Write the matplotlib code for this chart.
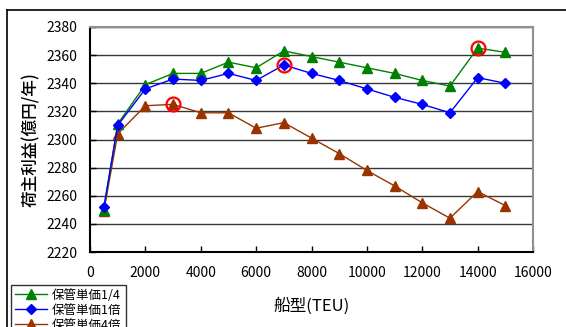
import matplotlib
matplotlib.use("Agg")
import matplotlib.pyplot as plt
from matplotlib.lines import Line2D

plt.rcParams['font.family'] = ['Noto Sans CJK JP', 'DejaVu Sans']

# Ship size (TEU) and shipper profit (100 million yen / year)
teu = [500, 1000, 2000, 3000, 4000, 5000, 6000, 7000, 8000,
       9000, 10000, 11000, 12000, 13000, 14000, 15000]
profit_quarter = [2250, 2311, 2339, 2347, 2347, 2355, 2351, 2363, 2359,
                  2355, 2351, 2347, 2342, 2338, 2365, 2362]
profit_x1 = [2252, 2310, 2336, 2343, 2342, 2347, 2342, 2353, 2347,
             2342, 2336, 2330, 2325, 2319, 2344, 2340]
profit_x4 = [2249, 2304, 2324, 2325, 2319, 2319, 2308, 2312, 2301,
             2290, 2278, 2267, 2255, 2244, 2263, 2253]
series_labels = ["保管単価1/4", "保管単価1倍", "保管単価4倍"]

# index of the optimum ship size in each series (circled)
peak_quarter = 14
peak_x1 = 7
peak_x4 = 3

W, H = 566, 327
fig = plt.figure(figsize=(W / 100, H / 100), dpi=100)
ax = fig.add_axes([90 / W, 1 - 252 / H, (533 - 90) / W, (252 - 27) / H])

ax.plot(teu, profit_quarter, color="#008000", lw=1, marker="^", ms=7.6,
        label=series_labels[0], zorder=3)
ax.plot(teu, profit_x1, color="#0000FF", lw=1, marker="D", ms=5,
        label=series_labels[1], zorder=4)
ax.plot(teu, profit_x4, color="#993300", lw=1, marker="^", ms=7.6,
        label=series_labels[2], zorder=2)

# red rings around the peaks
for series, i in [(profit_quarter, peak_quarter), (profit_x1, peak_x1), (profit_x4, peak_x4)]:
    ax.plot([teu[i]], [series[i]], marker="o", ms=10, mfc="none",
            mec="#FF0000", mew=1.6, zorder=5)

ax.set_xlim(0, 16000)
ax.set_ylim(2220, 2380)
ax.set_xticks(range(0, 16001, 2000))
ax.set_yticks(range(2220, 2381, 20))
ax.grid(axis="y", color="#383838", lw=1)
ax.set_axisbelow(True)
ax.tick_params(direction="in", length=4, width=1, labelsize=10, colors="black")
ax.tick_params(axis="x", pad=10)
ax.tick_params(axis="y", pad=9)

for side in ["left", "bottom"]:
    ax.spines[side].set_color("black")
    ax.spines[side].set_linewidth(1.5)
for side in ["right", "top"]:
    ax.spines[side].set_color("#909090")
    ax.spines[side].set_linewidth(1.5)

ax.set_xlabel("船型(TEU)", fontsize=12)
ax.set_ylabel("荷主利益(億円/年)", fontsize=12, fontweight="medium")
ax.xaxis.set_label_coords((312 - 90) / (533 - 90), -(297 - 252) / (252 - 27))
ax.yaxis.set_label_coords(-(90 - 40) / (533 - 90), (252 - 140) / (252 - 27))

# chart area frame
fig.add_artist(Line2D([7 / W, 1.0], [1 - 10 / H, 1 - 10 / H], color="black", lw=1.2))
fig.add_artist(Line2D([7 / W, 7 / W], [0, 1 - 10 / H], color="black", lw=1.2))

leg = fig.legend(loc="upper left", bbox_to_anchor=(11 / W, 1 - 285 / H),
                 fontsize=9, frameon=True, fancybox=False, edgecolor="black",
                 handlelength=2.6, handletextpad=0.4, borderpad=0.3,
                 labelspacing=0.15, borderaxespad=0)
leg.get_frame().set_linewidth(1)

fig.savefig("out.png", dpi=100)
